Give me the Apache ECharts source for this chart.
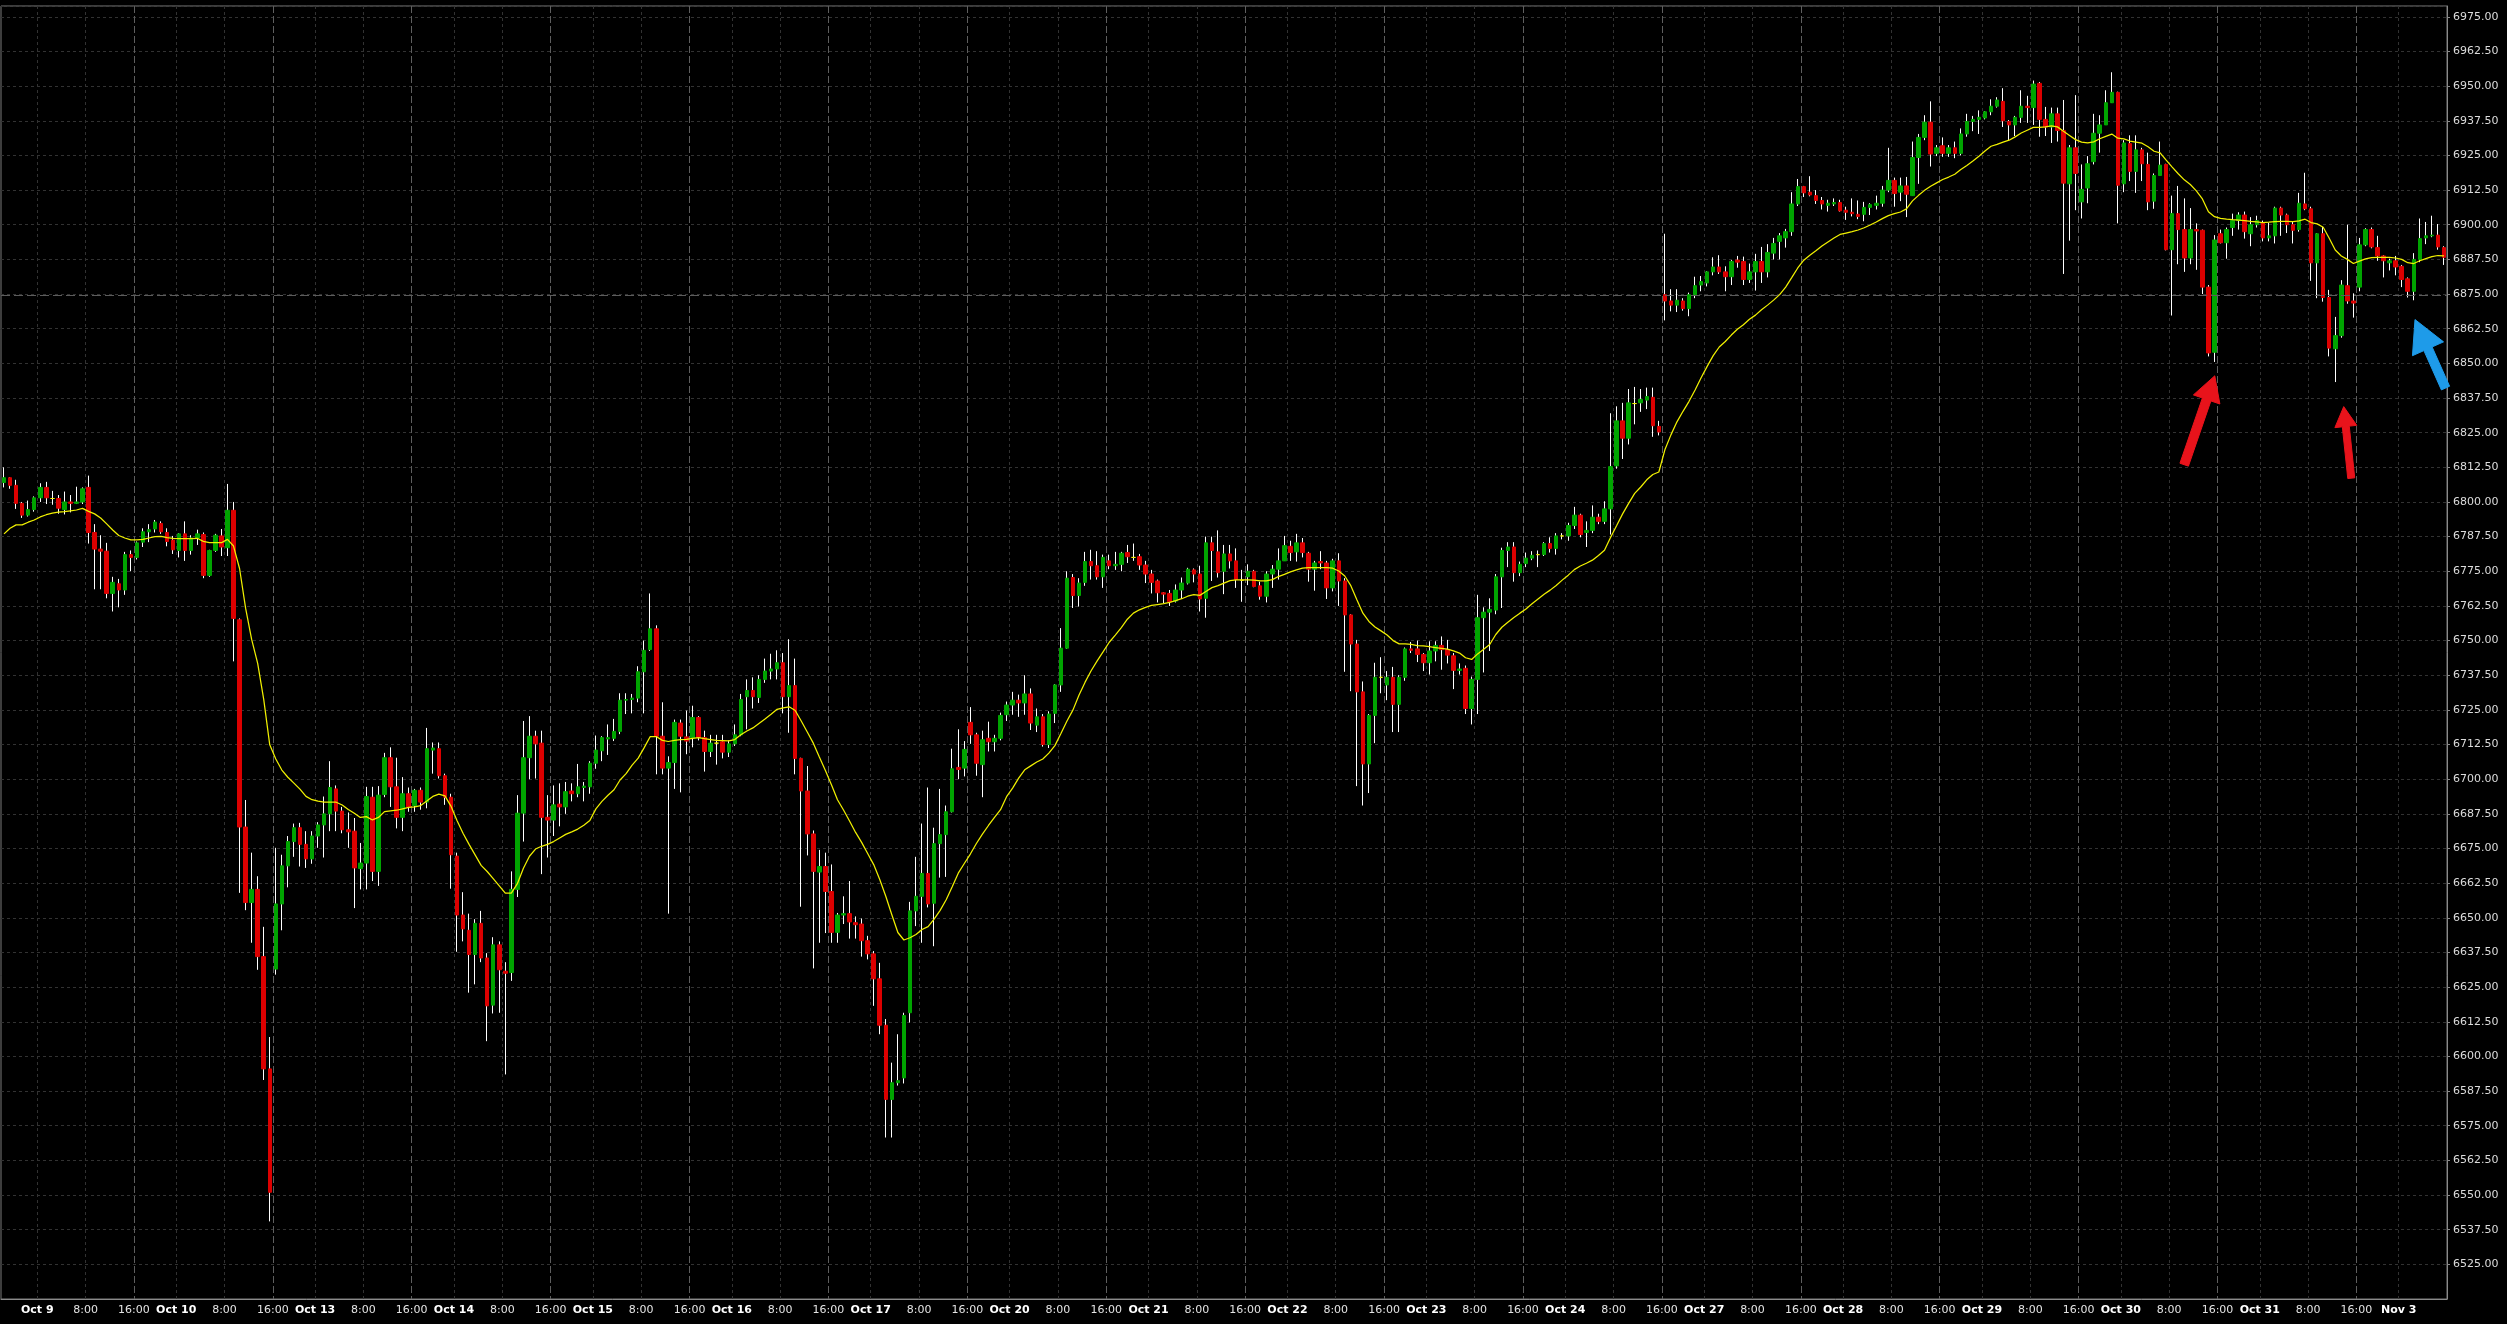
<!DOCTYPE html>
<html><head><meta charset="utf-8">
<script src="https://cdn.jsdelivr.net/npm/echarts/dist/echarts.min.js"></script>
<style>html,body{margin:0;padding:0;background:#000;overflow:hidden;}#chart{width:2507px;height:1324px;}</style>
</head><body><div id="chart"></div>
<script>
// ---- tick / category labels ----
const days = ['Oct 9','Oct 10','Oct 13','Oct 14','Oct 15','Oct 16','Oct 17','Oct 20','Oct 21','Oct 22','Oct 23','Oct 24','Oct 27','Oct 28','Oct 29','Oct 30','Oct 31'];
const lastDay = 'Nov 3';
const preHours = [18,19,20,21,22,23];
const sessionHours = [0,1,2,3,4,5,6,7,8,9,10,11,12,13,14,15,17,18,19,20,21,22,23];
const lastDayHours = [0,1,2,3,4,5,6,7];
const yTicks = {min: 6512.5, max: 6978.9, step: 12.5};
const refLine = 6874.5;

// ---- hourly OHLC ----
const open = [
6807.0,6808.75,6806.0,6799.5,6795.25,6797.25,6801.5,6805.25,6801.25,6801.25,
6797.25,6800.0,6799.5,6800.0,6805.25,6789.0,6783.0,6782.25,6767.0,6770.5,
6768.25,6781.0,6780.0,6785.5,6789.25,6790.25,6792.25,6789.0,6786.25,6782.5,
6788.5,6782.5,6787.0,6788.25,6773.5,6782.5,6787.75,6783.5,6797.0,6757.5,
6682.75,6655.5,6660.25,6636.0,6595.5,6631.5,6655.0,6668.75,6677.5,6682.5,
6676.5,6671.25,6679.5,6683.5,6687.5,6696.5,6688.5,6681.75,6681.25,6667.75,
6669.75,6693.5,6666.75,6694.5,6707.75,6697.25,6686.25,6694.75,6690.5,6696.0,
6691.75,6710.5,6711.0,6701.25,6693.5,6672.25,6651.0,6645.5,6636.75,6648.0,
6635.5,6618.5,6640.25,6630.75,6630.25,6660.25,6687.75,6707.75,6715.5,6713.0,
6686.25,6685.25,6691.0,6690.0,6695.75,6694.75,6697.0,6697.25,6705.75,6710.25,
6714.5,6714.75,6717.25,6728.5,6728.75,6729.25,6738.75,6746.75,6754.25,6715.5,
6704.0,6706.0,6720.25,6715.25,6715.0,6722.25,6715.0,6710.0,6713.0,6713.5,
6709.75,6712.75,6716.0,6729.75,6732.0,6729.5,6736.0,6739.0,6739.75,6742.0,
6729.75,6733.75,6707.5,6695.75,6680.25,6666.5,6668.5,6659.5,6644.75,6651.0,
6651.5,6648.25,6647.75,6641.75,6637.0,6628.0,6611.25,6584.5,6590.5,6592.25,
6615.75,6652.5,6657.75,6666.0,6655.25,6676.75,6680.0,6688.25,6704.25,6704.0,
6720.5,6716.0,6705.25,6714.75,6713.5,6714.75,6723.25,6726.75,6728.5,6727.5,
6730.75,6719.5,6722.5,6712.5,6723.75,6734.0,6747.25,6772.75,6766.25,6771.0,
6778.5,6777.0,6773.0,6778.75,6777.0,6777.5,6781.75,6780.0,6780.25,6777.25,
6774.0,6771.5,6767.25,6767.0,6764.25,6768.25,6770.75,6775.5,6774.0,6765.25,
6785.25,6782.0,6775.0,6781.25,6778.75,6771.75,6773.0,6775.0,6769.75,6766.0,
6774.0,6775.75,6778.75,6784.0,6782.0,6785.25,6781.5,6775.75,6778.5,6778.0,
6769.0,6778.75,6771.5,6759.25,6748.75,6731.5,6705.5,6723.0,6736.75,6734.0,
6736.75,6727.0,6736.75,6747.0,6747.0,6745.0,6742.0,6746.25,6748.25,6746.75,
6744.5,6739.25,6740.0,6725.5,6736.0,6758.25,6760.25,6761.0,6773.0,6782.5,
6783.75,6774.5,6777.75,6779.75,6781.0,6781.0,6785.0,6783.25,6787.75,6787.75,
6791.5,6795.25,6789.0,6789.75,6794.5,6793.0,6797.5,6813.0,6829.25,6823.0,
6835.5,6835.75,6836.75,6837.75,6827.25,6874.75,6872.5,6871.0,6872.5,6869.75,
6874.75,6878.25,6879.0,6883.0,6884.75,6883.0,6881.25,6887.25,6886.75,6880.25,
6883.0,6886.75,6883.0,6889.75,6894.0,6895.25,6897.5,6907.5,6913.75,6911.75,
6910.5,6908.75,6907.0,6907.5,6908.0,6905.25,6904.5,6903.75,6903.75,6906.25,
6907.0,6907.75,6912.5,6916.0,6911.75,6914.0,6910.5,6924.25,6931.5,6937.0,
6925.75,6928.5,6925.75,6927.75,6925.75,6932.75,6937.25,6938.0,6938.5,6940.75,
6942.75,6944.5,6937.25,6936.0,6938.75,6942.75,6942.25,6951.0,6938.0,6935.25,
6940.0,6934.0,6914.75,6927.75,6908.25,6913.25,6922.75,6933.0,6936.0,6944.0,
6947.75,6914.75,6929.25,6919.25,6927.0,6921.75,6908.5,6917.75,6921.75,6891.0,
6904.0,6898.25,6888.0,6898.25,6898.0,6877.5,6854.0,6896.75,6893.5,6899.0,
6901.5,6903.5,6896.75,6900.0,6900.75,6895.25,6896.0,6906.0,6903.5,6900.0,
6898.25,6907.5,6905.75,6886.25,6896.75,6873.75,6855.25,6860.0,6878.0,6872.5,
6877.5,6892.75,6898.25,6891.75,6888.75,6886.25,6887.0,6885.0,6880.5,6876.0,
6887.5,6895.25,6896.0,6896.25,6891.75];
const close = [
6808.75,6806.0,6799.5,6795.25,6797.25,6801.5,6805.25,6801.5,6801.25,6797.75,
6800.0,6799.5,6800.0,6804.75,6789.0,6783.0,6782.25,6767.0,6771.0,6768.25,
6781.0,6780.0,6785.25,6789.25,6790.0,6792.75,6789.25,6785.75,6782.75,6788.5,
6782.5,6787.0,6788.5,6773.5,6782.5,6788.0,6783.75,6797.0,6758.0,6682.75,
6655.5,6660.25,6636.0,6595.5,6551.0,6655.0,6668.75,6677.5,6682.5,6676.5,
6671.25,6679.5,6683.5,6687.5,6697.0,6688.5,6681.75,6681.0,6668.0,6669.75,
6693.75,6666.75,6694.25,6707.75,6697.25,6686.25,6694.75,6690.0,6696.0,6691.75,
6711.0,6711.25,6701.25,6693.5,6672.75,6651.0,6646.0,6636.75,6648.0,6635.5,
6618.25,6640.25,6631.25,6630.0,6660.25,6687.75,6707.75,6715.5,6712.75,6686.25,
6685.25,6690.75,6690.0,6695.5,6694.75,6697.25,6697.5,6705.75,6710.5,6715.0,
6715.0,6717.25,6728.5,6728.75,6729.25,6738.75,6746.5,6754.25,6715.5,6704.0,
6706.0,6720.5,6715.5,6713.75,6722.25,6715.0,6710.0,6713.0,6713.0,6709.75,
6712.75,6716.0,6728.75,6732.0,6729.75,6736.0,6739.0,6739.75,6742.0,6729.75,
6733.75,6707.5,6695.75,6680.25,6666.75,6668.5,6659.5,6644.75,6651.0,6651.5,
6648.5,6647.5,6641.75,6637.0,6628.0,6611.25,6584.5,6590.5,6591.25,6614.75,
6652.5,6657.75,6666.0,6655.0,6676.75,6680.0,6688.25,6703.75,6703.5,6710.75,
6716.0,6705.75,6714.25,6713.5,6714.75,6723.0,6726.75,6728.5,6727.5,6730.75,
6720.25,6722.5,6712.5,6723.5,6734.0,6747.25,6772.5,6766.25,6770.75,6778.5,
6777.0,6773.0,6780.0,6777.0,6777.5,6781.5,6780.25,6780.0,6777.25,6774.0,
6771.0,6767.25,6766.75,6764.0,6768.25,6770.75,6775.75,6774.0,6765.0,6785.25,
6782.5,6774.5,6781.25,6778.75,6772.0,6771.75,6775.0,6769.5,6766.0,6774.0,
6775.75,6778.75,6784.25,6781.75,6785.25,6781.75,6775.75,6778.0,6778.0,6769.0,
6778.75,6771.5,6759.25,6748.75,6731.5,6705.5,6723.0,6736.75,6736.75,6736.75,
6727.0,6736.75,6747.0,6746.5,6745.0,6742.0,6746.25,6748.25,6746.75,6744.75,
6739.25,6739.75,6725.5,6736.0,6758.25,6760.25,6761.25,6773.0,6782.5,6783.75,
6774.5,6777.5,6779.75,6780.75,6781.0,6785.0,6783.25,6787.75,6787.75,6791.5,
6795.25,6788.25,6789.75,6794.5,6793.0,6797.5,6812.75,6829.25,6823.0,6835.75,
6835.5,6837.0,6838.0,6827.5,6825.25,6872.5,6871.0,6872.75,6869.75,6874.75,
6878.0,6879.5,6883.0,6884.75,6883.0,6881.25,6886.75,6886.5,6880.25,6883.0,
6886.75,6883.0,6890.0,6893.25,6896.0,6897.5,6907.5,6913.75,6911.5,6910.75,
6908.75,6907.5,6907.75,6908.0,6905.0,6904.5,6904.0,6903.0,6906.25,6907.25,
6907.75,6912.5,6916.0,6911.25,6914.0,6911.0,6924.25,6931.5,6937.0,6925.5,
6927.75,6925.75,6927.75,6925.75,6932.75,6937.25,6938.0,6938.75,6940.75,6942.75,
6945.0,6937.5,6936.0,6938.75,6942.75,6942.25,6950.75,6938.0,6935.25,6940.0,
6934.0,6915.0,6927.75,6918.5,6912.75,6922.0,6933.0,6936.0,6944.0,6947.75,
6914.25,6929.5,6919.25,6927.0,6922.0,6908.25,6917.75,6921.5,6891.0,6904.0,
6898.25,6888.0,6898.25,6897.75,6877.5,6853.75,6894.5,6893.5,6898.25,6901.5,
6903.5,6897.5,6900.0,6901.5,6895.25,6896.0,6906.0,6903.5,6900.0,6898.0,
6907.75,6905.75,6886.25,6896.75,6873.75,6855.5,6860.0,6878.25,6872.5,6871.75,
6892.75,6898.25,6892.0,6888.75,6887.0,6887.0,6884.75,6880.25,6876.0,6887.5,
6895.0,6896.0,6896.25,6892.0,6888.25];
const high = [
6812.5,6809.0,6808.0,6800.0,6800.5,6802.0,6806.75,6807.25,6804.0,6802.5,
6803.75,6802.5,6805.5,6805.25,6809.5,6792.0,6788.0,6785.25,6773.0,6772.25,
6782.0,6782.5,6785.75,6790.5,6792.0,6793.5,6793.0,6790.5,6787.75,6788.75,
6793.0,6788.0,6790.0,6789.0,6782.75,6788.5,6790.25,6806.5,6800.0,6758.0,
6692.5,6673.5,6665.0,6646.75,6607.0,6675.25,6672.75,6679.5,6684.0,6684.25,
6681.25,6681.25,6684.5,6693.75,6706.5,6697.75,6690.0,6688.0,6686.0,6677.0,
6697.25,6697.25,6697.5,6709.5,6711.5,6707.75,6700.75,6697.0,6696.5,6697.0,
6718.5,6713.25,6713.25,6702.0,6694.75,6673.5,6659.25,6651.5,6649.5,6652.5,
6637.25,6643.0,6641.5,6634.0,6666.75,6694.25,6721.0,6722.75,6717.5,6717.5,
6694.25,6697.75,6698.5,6699.0,6698.5,6705.5,6699.0,6706.5,6715.75,6715.5,
6719.75,6721.75,6731.0,6731.0,6730.75,6740.75,6750.0,6767.0,6755.5,6727.75,
6708.25,6721.5,6721.5,6724.75,6726.5,6722.75,6717.5,6716.0,6716.0,6716.0,
6714.0,6719.75,6730.75,6736.0,6736.75,6737.5,6743.5,6745.25,6746.5,6745.5,
6750.5,6743.5,6707.75,6704.75,6681.5,6674.5,6673.5,6669.25,6651.75,6657.75,
6663.25,6650.5,6649.75,6643.5,6638.0,6633.75,6613.5,6597.75,6608.0,6615.75,
6655.75,6672.0,6684.0,6697.0,6682.5,6696.5,6690.5,6711.0,6718.0,6713.75,
6726.0,6716.75,6717.5,6720.75,6716.0,6724.0,6728.0,6731.5,6730.5,6737.5,
6732.75,6725.5,6723.5,6724.5,6734.25,6754.5,6775.0,6774.0,6772.5,6782.0,
6782.75,6782.25,6781.0,6781.0,6782.0,6782.0,6784.5,6785.0,6781.25,6778.75,
6775.5,6772.0,6767.5,6768.25,6770.25,6772.75,6776.25,6776.0,6777.0,6787.5,
6787.5,6789.75,6784.5,6784.5,6783.25,6775.5,6777.5,6775.5,6771.25,6775.0,
6777.25,6783.25,6787.75,6786.0,6788.5,6787.0,6782.0,6778.75,6782.25,6778.75,
6779.5,6781.5,6772.5,6759.5,6750.25,6735.25,6723.5,6742.0,6744.0,6739.0,
6740.5,6737.5,6747.5,6749.5,6750.0,6745.5,6749.75,6749.75,6751.5,6750.25,
6745.5,6741.75,6741.0,6737.0,6766.5,6762.0,6765.25,6774.0,6783.5,6785.5,
6785.5,6778.5,6781.75,6782.25,6782.5,6785.5,6787.25,6788.75,6788.75,6792.5,
6798.25,6795.75,6793.0,6798.75,6795.75,6800.25,6832.0,6834.5,6835.75,6840.75,
6841.5,6840.75,6841.25,6841.25,6829.25,6896.75,6876.75,6876.75,6873.5,6875.5,
6881.25,6881.5,6883.25,6888.25,6889.0,6885.0,6887.25,6888.75,6888.5,6886.0,
6889.5,6892.0,6893.0,6895.25,6897.0,6898.5,6911.75,6916.5,6914.0,6917.5,
6912.5,6910.0,6909.0,6909.5,6909.0,6906.5,6909.5,6908.75,6908.25,6907.75,
6910.5,6914.0,6927.75,6917.0,6917.0,6917.25,6930.0,6932.75,6939.5,6944.5,
6928.75,6931.5,6928.75,6930.0,6934.75,6940.0,6939.25,6941.25,6941.0,6945.25,
6946.0,6949.25,6937.75,6939.25,6948.5,6946.5,6952.0,6951.5,6942.5,6942.25,
6942.25,6945.0,6928.75,6946.75,6921.75,6924.75,6940.0,6939.5,6948.5,6955.0,
6948.0,6930.5,6932.25,6932.25,6927.75,6926.0,6918.5,6930.0,6922.0,6910.5,
6914.0,6909.5,6906.0,6900.5,6898.25,6878.25,6896.25,6898.25,6899.0,6904.0,
6904.5,6904.75,6902.75,6903.25,6901.5,6900.75,6906.5,6906.5,6904.0,6901.0,
6911.5,6918.75,6906.5,6897.0,6899.25,6876.5,6866.75,6880.0,6900.0,6875.25,
6895.25,6898.75,6899.0,6896.0,6889.0,6887.75,6888.75,6885.5,6881.0,6889.75,
6902.25,6901.0,6903.25,6900.25,6892.25];
const low = [
6805.25,6804.75,6797.5,6794.25,6794.75,6796.5,6800.0,6799.25,6799.0,6795.75,
6795.5,6796.25,6799.25,6799.25,6785.0,6768.5,6768.5,6765.25,6760.5,6762.0,
6766.5,6775.0,6779.25,6783.75,6785.5,6789.0,6788.5,6784.0,6781.25,6780.0,
6778.75,6781.0,6784.5,6772.5,6773.0,6782.0,6780.5,6780.5,6742.5,6659.0,
6652.75,6641.0,6631.25,6591.5,6540.5,6629.5,6645.5,6661.0,6672.0,6668.5,
6668.0,6669.5,6675.25,6671.75,6681.25,6681.25,6680.5,6675.25,6653.5,6660.25,
6660.25,6663.25,6661.5,6693.5,6690.0,6682.25,6681.25,6688.25,6688.25,6689.0,
6689.5,6702.0,6700.25,6690.75,6660.5,6637.75,6641.5,6623.0,6626.0,6634.0,
6605.5,6615.5,6615.75,6593.5,6627.25,6657.5,6677.5,6700.0,6700.25,6665.75,
6671.75,6679.5,6683.0,6687.5,6692.0,6693.5,6692.0,6694.75,6703.75,6706.5,
6708.75,6713.75,6716.25,6723.5,6723.75,6727.75,6723.75,6746.25,6701.75,6701.75,
6651.5,6696.5,6695.25,6709.0,6711.5,6714.0,6702.75,6708.0,6705.25,6707.5,
6708.0,6712.0,6715.5,6718.0,6725.5,6727.5,6734.75,6736.0,6736.0,6723.75,
6716.75,6701.75,6654.0,6672.5,6631.75,6641.0,6644.5,6641.0,6641.0,6647.75,
6642.5,6642.5,6636.0,6635.0,6618.25,6608.0,6570.75,6570.75,6589.5,6590.25,
6612.25,6647.0,6641.0,6653.75,6639.75,6664.5,6664.75,6688.0,6700.0,6701.0,
6712.75,6701.25,6693.5,6710.0,6710.0,6714.0,6721.0,6723.25,6722.5,6723.25,
6717.75,6717.0,6711.75,6711.25,6720.25,6731.5,6747.0,6761.75,6762.25,6769.75,
6772.0,6772.0,6769.0,6775.75,6775.5,6775.0,6778.0,6778.75,6775.5,6770.75,
6767.0,6763.75,6763.5,6762.5,6763.75,6765.0,6770.25,6771.0,6760.5,6758.25,
6771.5,6772.75,6766.75,6776.0,6769.0,6764.0,6770.0,6769.25,6764.75,6763.75,
6769.0,6772.0,6778.75,6778.75,6778.5,6780.0,6771.25,6768.0,6775.75,6765.0,
6767.75,6762.5,6738.75,6731.75,6697.5,6690.5,6695.0,6713.0,6731.0,6728.5,
6717.0,6717.0,6735.5,6745.5,6742.25,6739.0,6737.75,6742.5,6739.5,6741.75,
6732.5,6737.75,6723.5,6719.75,6723.5,6738.5,6746.25,6759.5,6761.75,6776.5,
6771.25,6773.25,6776.5,6779.0,6776.5,6780.5,6781.75,6781.0,6786.5,6786.0,
6790.25,6787.25,6783.75,6788.75,6792.0,6792.0,6788.25,6812.0,6815.5,6820.75,
6828.0,6832.5,6833.5,6823.5,6824.0,6865.5,6868.75,6868.5,6869.0,6867.0,
6873.5,6876.0,6877.75,6881.75,6882.25,6876.0,6878.25,6884.5,6878.25,6879.0,
6876.25,6879.0,6881.0,6887.5,6887.5,6891.75,6896.0,6906.75,6910.0,6910.25,
6907.5,6905.5,6904.75,6906.75,6904.75,6901.75,6903.0,6902.0,6901.25,6903.5,
6905.5,6906.5,6911.75,6906.5,6908.5,6902.75,6910.5,6914.75,6930.5,6921.0,
6924.75,6924.5,6924.5,6924.0,6925.0,6931.75,6933.75,6932.75,6938.0,6939.5,
6942.25,6935.25,6930.5,6932.0,6936.75,6936.75,6936.0,6931.75,6932.0,6929.5,
6930.0,6882.25,6894.25,6905.25,6902.25,6907.75,6921.75,6926.0,6936.0,6944.0,
6900.5,6911.75,6915.75,6911.5,6915.75,6905.25,6905.75,6917.75,6890.75,6867.25,
6885.75,6883.0,6885.75,6883.75,6875.0,6852.5,6850.5,6893.25,6887.75,6896.0,
6898.25,6895.0,6892.25,6899.0,6894.0,6894.0,6893.25,6896.0,6897.0,6893.25,
6897.5,6905.25,6879.75,6873.5,6872.25,6852.5,6843.25,6859.25,6871.5,6866.5,
6876.0,6892.25,6891.5,6887.0,6881.0,6883.5,6881.75,6877.5,6873.75,6872.75,
6886.5,6893.0,6895.5,6891.0,6885.5];
// moving average line
const ma = [
6788.5,6790.5,6791.75,6791.75,6792.7,6793.5,6794.6,6795.4,6796.0,6796.3,
6796.5,6796.8,6797.1,6797.7,6796.6,6795.7,6794.2,6792.1,6789.9,6787.9,
6787.0,6786.3,6786.3,6786.5,6787.0,6787.5,6787.6,6787.1,6786.9,6786.8,
6786.8,6786.8,6786.9,6785.8,6785.3,6785.3,6785.3,6786.5,6784.1,6776.0,
6761.7,6750.4,6741.8,6728.8,6712.4,6707.3,6703.3,6700.7,6698.6,6696.4,
6693.8,6692.6,6692.1,6691.7,6691.7,6691.7,6690.7,6689.1,6687.7,6686.2,
6686.5,6685.3,6686.2,6688.3,6688.6,6688.8,6689.3,6689.8,6690.0,6690.5,
6692.1,6693.8,6694.6,6694.0,6690.3,6685.1,6680.5,6676.5,6672.7,6668.9,
6666.7,6664.1,6661.5,6658.9,6658.9,6662.3,6667.9,6672.2,6674.8,6675.8,
6676.5,6677.5,6678.8,6680.1,6681.0,6682.0,6683.4,6685.1,6689.3,6692.0,
6694.2,6696.2,6699.7,6702.0,6705.1,6707.6,6711.4,6715.4,6715.4,6714.0,
6713.6,6714.0,6714.3,6714.4,6714.7,6715.0,6714.6,6714.3,6714.0,6713.9,
6713.8,6714.3,6716.0,6717.4,6718.5,6720.1,6721.7,6723.4,6725.2,6725.7,
6726.1,6724.8,6721.0,6717.0,6713.0,6708.0,6703.1,6698.0,6692.6,6688.9,
6684.9,6680.8,6677.2,6673.2,6669.2,6663.8,6657.8,6651.1,6644.7,6642.0,
6642.8,6644.0,6645.8,6646.8,6649.5,6652.7,6656.5,6661.2,6666.1,6669.6,
6673.0,6676.8,6680.2,6683.3,6686.2,6689.0,6693.7,6696.8,6700.4,6703.4,
6704.8,6706.2,6707.3,6709.4,6712.1,6716.5,6721.0,6725.0,6730.4,6735.0,
6739.1,6742.7,6746.0,6749.4,6752.0,6754.7,6757.7,6759.9,6761.1,6762.0,
6762.7,6763.0,6763.3,6763.8,6764.4,6765.1,6766.0,6766.6,6766.3,6767.7,
6769.1,6769.8,6770.7,6771.6,6771.9,6771.9,6771.9,6771.8,6771.5,6771.5,
6772.0,6773.1,6773.9,6774.8,6775.5,6776.1,6776.3,6776.3,6776.3,6776.3,
6776.1,6775.1,6773.3,6769.8,6764.7,6759.9,6756.9,6754.9,6753.5,6752.0,
6750.0,6748.8,6748.8,6748.6,6748.2,6748.1,6747.8,6747.5,6747.2,6746.9,
6746.3,6745.5,6743.8,6743.2,6745.2,6746.9,6748.6,6752.2,6754.8,6756.6,
6758.3,6759.9,6761.4,6763.3,6765.0,6766.7,6768.2,6769.9,6771.8,6773.6,
6775.6,6776.9,6777.9,6779.0,6780.7,6782.6,6787.2,6791.4,6795.7,6799.5,
6803.1,6805.4,6808.0,6809.9,6810.8,6818.8,6824.2,6828.9,6832.7,6836.3,
6840.4,6844.8,6848.9,6852.8,6855.9,6857.9,6860.2,6862.3,6863.9,6865.9,
6867.4,6869.3,6871.0,6872.8,6874.8,6877.5,6880.9,6884.4,6887.2,6889.0,
6890.6,6892.3,6893.8,6895.2,6896.5,6897.0,6897.5,6898.1,6898.9,6899.9,
6901.0,6902.2,6903.3,6904.0,6904.6,6905.7,6908.6,6910.6,6912.4,6913.9,
6915.1,6916.3,6917.2,6918.2,6919.9,6921.4,6923.0,6924.7,6926.6,6928.3,
6929.0,6929.8,6930.5,6931.7,6933.1,6934.1,6935.1,6935.1,6935.3,6935.7,
6935.3,6933.7,6932.2,6930.7,6929.8,6929.5,6929.9,6931.0,6931.9,6932.7,
6931.2,6931.0,6930.2,6929.8,6929.4,6928.1,6926.5,6925.9,6923.3,6920.8,
6918.4,6916.2,6914.5,6912.2,6909.3,6904.7,6902.9,6902.3,6902.0,6901.8,
6901.7,6901.5,6901.2,6901.0,6900.8,6900.9,6901.1,6901.2,6901.2,6901.1,
6901.4,6902.0,6900.8,6900.3,6899.1,6895.1,6890.9,6888.7,6887.5,6886.0,
6886.9,6887.7,6888.1,6888.2,6888.2,6888.2,6888.0,6887.5,6886.3,6886.0,
6887.0,6887.8,6888.5,6888.9,6888.8];

// annotation arrows (tip in data coords)
const arrows = [
  {tipIndex: 366.05, tipValue: 6845.5, angle: 19, length: 94, headLength: 25, headWidth: 28, shaftWidth: 9, color: '#e8131b'},
  {tipIndex: 387.4, tipValue: 6834.4, angle: -6, length: 72, headLength: 20, headWidth: 22, shaftWidth: 7, color: '#e8131b'},
  {tipIndex: 399.2, tipValue: 6865.8, angle: -24, length: 75, headLength: 32, headWidth: 34, shaftWidth: 9, color: '#1e9be9'}
];

// ---- build categories & label positions ----
const categories = [], hours = [], dayOf = [];
preHours.forEach(h => { categories.push('Oct 8 ' + h + ':00'); hours.push(h); dayOf.push('Oct 8'); });
days.forEach(d => sessionHours.forEach(h => { categories.push(d + ' ' + h + ':00'); hours.push(h); dayOf.push(d); }));
lastDayHours.forEach(h => { categories.push(lastDay + ' ' + h + ':00'); hours.push(h); dayOf.push(lastDay); });

function tickText(i) {
  const h = hours[i];
  if (h === 0) return '{d|' + dayOf[i] + '}';
  if (h === 8) return '{h|8:00}';
  if (h === 17 && i > 0 && hours[i-1] === 15) return '{h|16:00}';
  return '';
}
const isLabel = i => tickText(i) !== '';
const isDimLine = i => hours[i] === 0 || hours[i] === 8;
const isSessionLine = i => hours[i] === 17 && i > 0 && hours[i-1] === 15;

const wickData = open.map((o, i) => [o, close[i], Math.min(low[i], o, close[i]), Math.max(high[i], o, close[i])]);
const bodyData = open.map((o, i) => [o, close[i], Math.min(o, close[i]), Math.max(o, close[i])]);

const FONT = 'DejaVu Sans';
const chart = echarts.init(document.getElementById('chart'), null, {renderer: 'canvas'});
const option = {
  backgroundColor: '#000000',
  animation: false,
  textStyle: {fontFamily: FONT},
  grid: {left: 1, right: 60, top: 6, bottom: 25, show: true, borderColor: '#7a7a7a', borderWidth: 1, backgroundColor: '#000000'},
  xAxis: [{
    type: 'category', data: categories, boundaryGap: true,
    axisLine: {show: true, lineStyle: {color: '#8a8a8a'}},
    axisTick: {show: false},
    axisLabel: {
      interval: (i) => isLabel(i),
      formatter: (v, i) => tickText(i),
      margin: 6, padding: [0, 6, 0, 0],
      rich: {
        d: {fontFamily: FONT, fontSize: 11, fontWeight: 'bold', color: '#ffffff'},
        h: {fontFamily: FONT, fontSize: 11, color: '#e4e4e4'}
      }
    },
    splitLine: {show: true, interval: (i) => isDimLine(i), lineStyle: {color: '#323232', width: 1, type: [3, 3]}}
  }, {
    type: 'category', data: categories, boundaryGap: true, position: 'top',
    axisLine: {show: false}, axisTick: {show: false}, axisLabel: {show: false},
    splitLine: {show: true, interval: (i) => isSessionLine(i), lineStyle: {color: '#5e5e5e', width: 1, type: [7, 3]}}
  }],
  yAxis: {
    type: 'value', position: 'right', scale: true,
    min: yTicks.min, max: yTicks.max, interval: yTicks.step,
    axisLine: {show: true, lineStyle: {color: '#8a8a8a'}},
    axisTick: {show: true, length: 3, lineStyle: {color: '#8a8a8a'}},
    axisLabel: {
      color: '#dcdcdc', fontSize: 11, fontFamily: FONT, margin: 6,
      showMinLabel: false, showMaxLabel: false,
      formatter: (v) => (Math.abs(v / yTicks.step - Math.round(v / yTicks.step)) < 1e-6 && v > yTicks.min) ? v.toFixed(2) : ''
    },
    splitLine: {show: true, lineStyle: {color: '#323232', width: 1, type: [3, 3]}}
  },
  series: [{
    name: 'wick', type: 'candlestick', data: wickData, barWidth: 1, z: 2, silent: true,
    itemStyle: {color: '#ffffff', color0: '#ffffff', borderColor: '#ffffff', borderColor0: '#ffffff', borderColorDoji: '#ffffff', borderWidth: 1}
  }, {
    name: 'body', type: 'candlestick', data: bodyData, barWidth: 4, z: 3, silent: true,
    itemStyle: {color: '#00a400', color0: '#dc0000', borderColor: '#00a400', borderColor0: '#dc0000', borderColorDoji: '#f0f000', borderWidth: 1}
  }, {
    name: 'MA', type: 'line', data: ma, showSymbol: false, symbol: 'none', z: 4, silent: true,
    lineStyle: {color: '#f0f000', width: 1.25},
    markLine: {silent: true, symbol: ['none', 'none'], label: {show: false},
      lineStyle: {color: '#5c5c5c', width: 1, type: [9, 4]}, data: [{yAxis: refLine}]}
  }]
};
chart.setOption(option);

// ---- arrows placed through the axes' own conversion ----
function toPx(idx, val) {
  const i0 = Math.floor(idx);
  const p0 = chart.convertToPixel({xAxisIndex: 0, yAxisIndex: 0}, [i0, val]);
  const p1 = chart.convertToPixel({xAxisIndex: 0, yAxisIndex: 0}, [i0 + 1, val]);
  return [p0[0] + (idx - i0) * (p1[0] - p0[0]), p0[1]];
}
const graphics = arrows.map(a => {
  const T = toPx(a.tipIndex, a.tipValue);
  const r = a.angle * Math.PI / 180;
  const ux = Math.sin(r), uy = -Math.cos(r);
  const nx = Math.cos(r), ny = Math.sin(r);
  const B = [T[0] - ux * a.headLength, T[1] - uy * a.headLength];
  const E = [T[0] - ux * a.length, T[1] - uy * a.length];
  const hw = a.headWidth / 2, sw = a.shaftWidth / 2;
  const pts = [
    T,
    [B[0] + nx * hw, B[1] + ny * hw],
    [B[0] + nx * sw, B[1] + ny * sw],
    [E[0] + nx * sw, E[1] + ny * sw],
    [E[0] - nx * sw, E[1] - ny * sw],
    [B[0] - nx * sw, B[1] - ny * sw],
    [B[0] - nx * hw, B[1] - ny * hw]
  ];
  return {type: 'polygon', z: 100, silent: true, shape: {points: pts}, style: {fill: a.color, stroke: a.color, lineWidth: 1, lineJoin: 'round'}};
});
chart.setOption({graphic: graphics});
</script></body></html>
